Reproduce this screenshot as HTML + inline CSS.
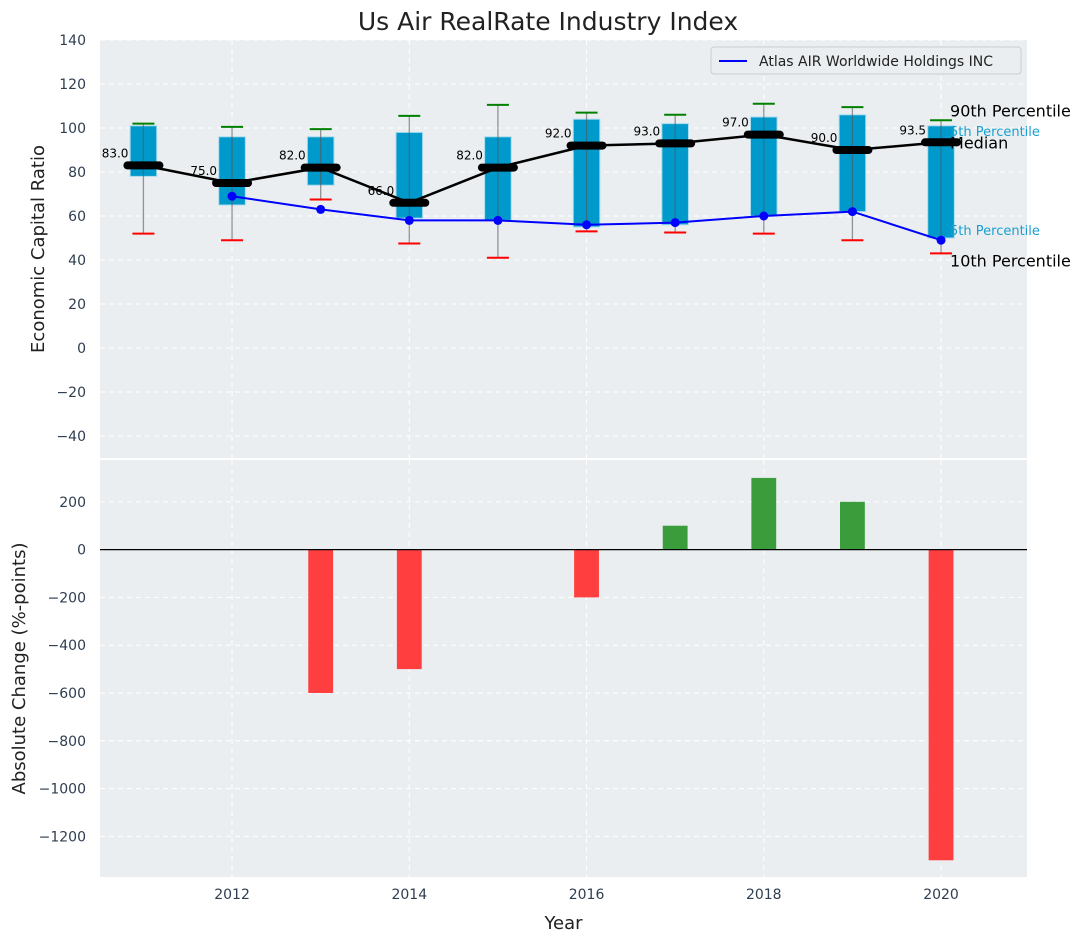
<!DOCTYPE html>
<html><head><meta charset="utf-8"><style>
body{margin:0;background:#fff;font-family:"Liberation Sans","DejaVu Sans",sans-serif}
svg text{font-family:"DejaVu Sans","Liberation Sans",sans-serif}
</style></head><body>
<svg id="c" width="1085" height="942" xmlns="http://www.w3.org/2000/svg">
<text x="548" y="30" font-size="25" text-anchor="middle" fill="#222">Us Air RealRate Industry Index</text>
</svg>
<script>
const years=[2011,2012,2013,2014,2015,2016,2017,2018,2019,2020];
const boxLow=[78,65,74,59,58,55,56,60,62,50];
const boxHigh=[101,96,96,98,96,104,102,105,106,101];
const whiskHigh=[102,100.5,99.5,105.5,110.5,107,106,111,109.5,103.5];
const whiskLow=[52,49,67.5,47.5,41,53,52.5,52,49,43];
const medians=[83,75,82,66,82,92,93,97,90,93.5];
const companyYears=[2012,2013,2014,2015,2016,2017,2018,2019,2020];
const companyVals=[69,63,58,58,56,57,60,62,49];
const changeYears=[2013,2014,2016,2017,2018,2019,2020];
const changeVals=[-600,-500,-200,100,300,200,-1300];
const topTicks=[-40,-20,0,20,40,60,80,100,120,140];
const botTicks=[-1200,-1000,-800,-600,-400,-200,0,200];
const xTicks=[2012,2014,2016,2018,2020];

const svg=document.getElementById('c');const NS='http://www.w3.org/2000/svg';
function el(t,a,p){const e=document.createElementNS(NS,t);for(const k in a)e.setAttribute(k,a[k]);(p||svg).appendChild(e);return e;}
const L=100,R=1027;
const X=v=>L+(v-2010.51)/(2020.97-2010.51)*(R-L);
const T0=40,T1=458,Y1=v=>T1-(v+50)/190*(T1-T0);
const B0=460,B1=877,Y2=v=>B0+(375-v)/(375+1370)*(B1-B0);

let e=el('rect',{x:L,y:T0,width:R-L,height:T1-T0,fill:'#eaeef0'});

e=el('rect',{x:L,y:B0,width:R-L,height:B1-B0,fill:'#eaeef0'});

topTicks.forEach(t=>{el('line',{x1:L,x2:R,y1:Y1(t),y2:Y1(t),stroke:'#fff','stroke-dasharray':'5,4'});
 e=el('text',{x:L-14,y:Y1(t)+5,'font-size':14,'text-anchor':'end',fill:'#2e3e50'});e.textContent=t<0?'−'+(-t):t;
 });
botTicks.forEach(t=>{el('line',{x1:L,x2:R,y1:Y2(t),y2:Y2(t),stroke:'#fff','stroke-dasharray':'5,4'});
 e=el('text',{x:L-14,y:Y2(t)+5,'font-size':14,'text-anchor':'end',fill:'#2e3e50'});e.textContent=t<0?'−'+(-t):t;
 });
xTicks.forEach(t=>{el('line',{x1:X(t),x2:X(t),y1:T0,y2:T1,stroke:'#fff','stroke-dasharray':'5,4'});
 el('line',{x1:X(t),x2:X(t),y1:B0,y2:B1,stroke:'#fff','stroke-dasharray':'5,4'});
 e=el('text',{x:X(t),y:B1+22,'font-size':14,'text-anchor':'middle',fill:'#2e3e50'});e.textContent=t;
 });
const bw=0.3*(X(1)-X(0));
years.forEach((y,i)=>{const cx=X(y);
 e=el('rect',{x:cx-bw/2,y:Y1(boxHigh[i]),width:bw,height:Y1(boxLow[i])-Y1(boxHigh[i]),fill:'#0099cc',stroke:'#aadcee','stroke-width':1});
 
 el('line',{x1:cx,x2:cx,y1:Y1(whiskHigh[i]),y2:Y1(whiskLow[i]),stroke:'#555','stroke-opacity':0.6,'stroke-width':1.3});
 e=el('line',{x1:cx-11,x2:cx+11,y1:Y1(whiskHigh[i]),y2:Y1(whiskHigh[i]),stroke:'green','stroke-width':2});
 
 e=el('line',{x1:cx-11,x2:cx+11,y1:Y1(whiskLow[i]),y2:Y1(whiskLow[i]),stroke:'red','stroke-width':2});
 
});
e=el('polyline',{points:years.map((y,i)=>X(y)+','+Y1(medians[i])).join(' '),fill:'none',stroke:'#000','stroke-width':2.5});

years.forEach((y,i)=>{const cx=X(y);
 e=el('line',{x1:cx-16,x2:cx+16,y1:Y1(medians[i]),y2:Y1(medians[i]),stroke:'#000','stroke-width':8,'stroke-linecap':'round'});
 
 e=el('text',{x:cx-15,y:Y1(medians[i])-8,'font-size':12,'text-anchor':'end',fill:'#000'});e.textContent=medians[i].toFixed(1);
 
});
e=el('polyline',{points:companyYears.map((y,i)=>X(y)+','+Y1(companyVals[i])).join(' '),fill:'none',stroke:'blue','stroke-width':2});

companyYears.forEach((y,i)=>{e=el('circle',{cx:X(y),cy:Y1(companyVals[i]),r:4.5,fill:'blue'});
 });
const lx=X(2020)+9,ly=years.length-1;
[['90th Percentile',Y1(whiskHigh[ly])-4,16,'#000'],['5th Percentile',Y1(boxHigh[ly])+10,13,'#1a9fd0'],['Median',Y1(medians[ly])+6,16,'#000'],['5th Percentile',Y1(boxLow[ly])-3,13,'#1a9fd0'],['10th Percentile',Y1(whiskLow[ly])+13,16,'#000']].forEach(a=>{
 e=el('text',{x:lx,y:a[1],'font-size':a[2],fill:a[3]});e.textContent=a[0];
 });
e=el('g',{});
el('rect',{x:711,y:47,width:310,height:27,rx:3,fill:'#eaeef0',stroke:'#ccc'},e);
el('line',{x1:719,x2:747,y1:61,y2:61,stroke:'blue','stroke-width':2},e);
const lt=el('text',{x:759,y:66,'font-size':14,fill:'#222'},e);lt.textContent='Atlas AIR Worldwide Holdings INC';
const bbw=0.28*(X(1)-X(0));
changeYears.forEach((y,i)=>{const v=changeVals[i];
 e=el('rect',{x:X(y)-bbw/2,y:Math.min(Y2(0),Y2(v)),width:bbw,height:Math.abs(Y2(v)-Y2(0)),fill:v>=0?'#3a9c3a':'#ff3f3f'});
 });
el('line',{x1:L,x2:R,y1:Y2(0),y2:Y2(0),stroke:'#000','stroke-width':1.2});
e=el('text',{x:0,y:0,'font-size':18,'text-anchor':'middle',fill:'#222',transform:`translate(44,${(T0+T1)/2}) rotate(-90)`});e.textContent='Economic Capital Ratio';

e=el('text',{x:0,y:0,'font-size':18,'text-anchor':'middle',fill:'#222',transform:`translate(25,${(B0+B1)/2}) rotate(-90)`});e.textContent='Absolute Change (%-points)';

e=el('text',{x:(L+R)/2,y:929,'font-size':18,'text-anchor':'middle',fill:'#222'});e.textContent='Year';

</script>
</body></html>
